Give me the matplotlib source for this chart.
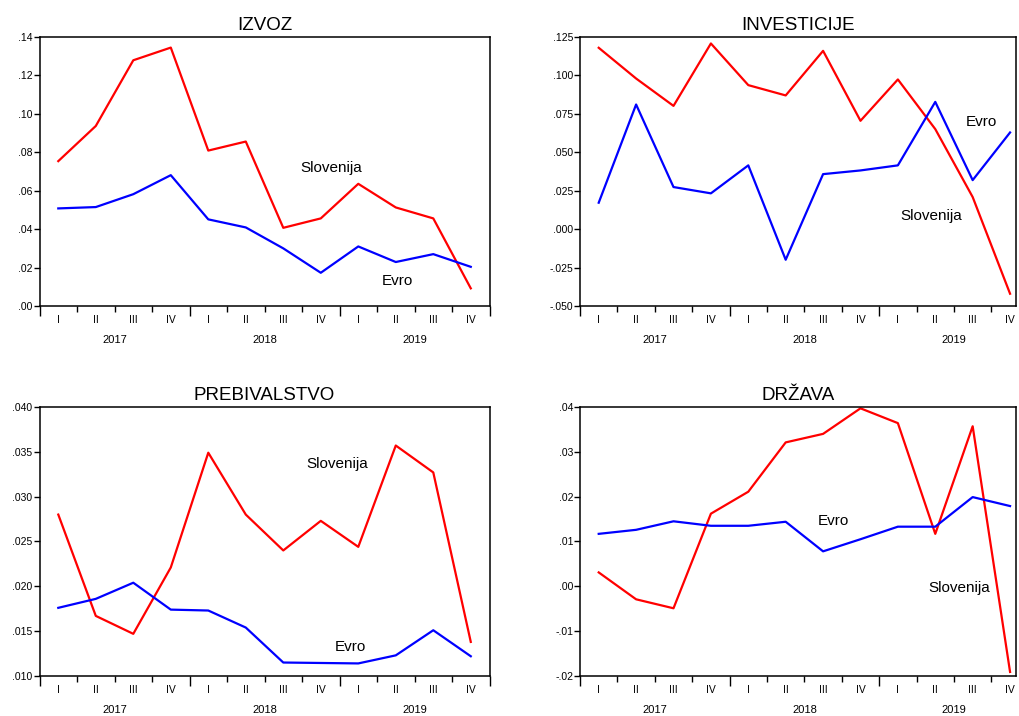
import numpy as np
import matplotlib
matplotlib.use('Agg')
import matplotlib.pyplot as plt
from matplotlib.ticker import FixedLocator, FuncFormatter

plt.rcParams['font.family'] = ['Liberation Sans', 'DejaVu Sans']

quarters = ['I', 'II', 'III', 'IV'] * 3
years = ['2017', '2018', '2019']

# IZVOZ
izvoz_slo = [0.0754, 0.0937, 0.1279, 0.1345, 0.0809, 0.0856, 0.0407, 0.0456, 0.0636, 0.0513, 0.0456, 0.0092]
izvoz_evro = [0.0508, 0.0515, 0.0582, 0.0681, 0.0451, 0.0409, 0.0300, 0.0173, 0.0310, 0.0229, 0.0270, 0.0204]
# INVESTICIJE
inv_slo = [0.1180, 0.0980, 0.0802, 0.1208, 0.0937, 0.0870, 0.1160, 0.0705, 0.0974, 0.0651, 0.0209, -0.0420]
inv_evro = [0.0172, 0.0811, 0.0274, 0.0233, 0.0415, -0.0199, 0.0358, 0.0382, 0.0415, 0.0828, 0.0319, 0.0629]
# PREBIVALSTVO
preb_slo = [0.0280, 0.0167, 0.0147, 0.0221, 0.0349, 0.0280, 0.0240, 0.0273, 0.0244, 0.0357, 0.0327, 0.0138]
preb_evro = [0.0176, 0.0186, 0.0204, 0.0174, 0.0173, 0.0154, 0.0115, 0.01145, 0.0114, 0.0123, 0.0151, 0.0122]
# DRŽAVA
drz_slo = [0.0031, -0.0029, -0.0049, 0.0162, 0.0211, 0.0321, 0.0340, 0.0397, 0.0364, 0.0117, 0.0357, -0.0191]
drz_evro = [0.0117, 0.0126, 0.0145, 0.0135, 0.0135, 0.0144, 0.0078, 0.0105, 0.0133, 0.0133, 0.0199, 0.0179]

panels = [
    # title, slo, evro, ylim, ystep, decimals, axes rect, xmax, (slo label xy), (evro label xy)
    ('IZVOZ', izvoz_slo, izvoz_evro, (0.0, 0.14), 0.02, 2,
     [0.0388, 0.5726, 0.4416, 0.3757], 11.5, (7.29, 0.0718), (9.03, 0.013)),
    ('INVESTICIJE', inv_slo, inv_evro, (-0.05, 0.125), 0.025, 3,
     [0.5692, 0.5726, 0.4279, 0.3757], 11.16, (8.90, 0.0084), (10.24, 0.070)),
    ('PREBIVALSTVO', preb_slo, preb_evro, (0.010, 0.040), 0.005, 3,
     [0.0388, 0.0559, 0.4416, 0.3757], 11.5, (7.45, 0.0336), (7.80, 0.0132)),
    ('DRŽAVA', drz_slo, drz_evro, (-0.02, 0.04), 0.01, 2,
     [0.5692, 0.0559, 0.4279, 0.3757], 11.16, (9.63, -0.0004), (6.28, 0.0146)),
]


def fmt_factory(dec):
    def f(v, pos):
        s = ('%.' + str(dec) + 'f') % v
        if s.startswith('-0'):
            s = '-' + s[2:]
        elif s.startswith('0'):
            s = s[1:]
        return s
    return f


fig = plt.figure(figsize=(10.19, 7.16), dpi=100)
x = np.arange(12)

for title, slo, evro, ylim, ystep, dec, rect, xmax, slo_xy, evro_xy in panels:
    ax = fig.add_axes(rect)
    ax.plot(x, slo, color='#ff0000', lw=1.6)
    ax.plot(x, evro, color='#0000ff', lw=1.6)
    ax.set_xlim(-0.5, xmax)
    ax.set_ylim(*ylim)
    ax.set_title(title, fontsize=13.5, pad=5)

    yt = np.arange(ylim[0], ylim[1] + ystep / 2, ystep)
    ax.yaxis.set_major_locator(FixedLocator(yt))
    ax.yaxis.set_major_formatter(FuncFormatter(fmt_factory(dec)))
    ax.tick_params(axis='y', direction='out', length=4, width=1, pad=1,
                   labelsize=7.5, right=False)

    # year boundaries long ticks, quarter boundaries short ticks
    ax.xaxis.set_major_locator(FixedLocator([-0.5, 3.5, 7.5, 11.5]))
    ax.xaxis.set_minor_locator(FixedLocator(np.arange(-0.5, 12, 1.0)))
    ax.tick_params(axis='x', which='major', direction='out', length=7, width=1,
                   labelbottom=False, top=False)
    ax.tick_params(axis='x', which='minor', direction='out', length=4, width=1,
                   top=False)
    for sp in ax.spines.values():
        sp.set_linewidth(1.1)

    tr = ax.get_xaxis_transform()
    for i, q in enumerate(quarters):
        ax.text(i, -0.052, q, transform=tr, ha='center', va='center',
                fontsize=7.5, clip_on=False)
    for k, yr in enumerate(years):
        ax.text(1.5 + 4 * k, -0.125, yr, transform=tr, ha='center', va='center',
                fontsize=8, clip_on=False)

    ax.text(slo_xy[0], slo_xy[1], 'Slovenija', ha='center', va='center', fontsize=11)
    ax.text(evro_xy[0], evro_xy[1], 'Evro', ha='center', va='center', fontsize=11)

fig.savefig('out.png', dpi=100)
